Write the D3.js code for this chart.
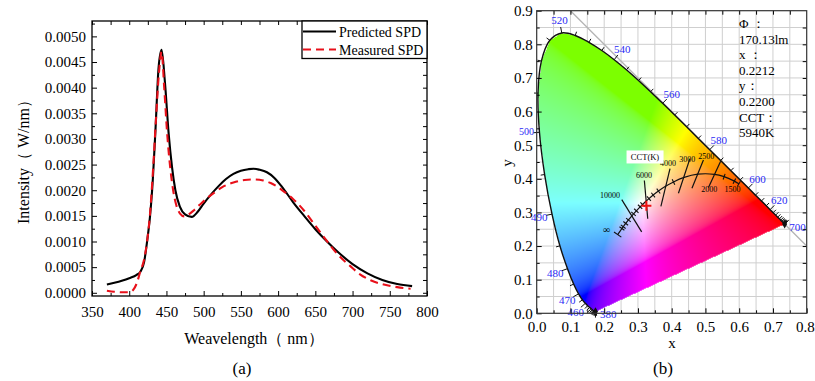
<!DOCTYPE html>
<html>
<head>
<meta charset="utf-8">
<script src="https://cdn.jsdelivr.net/npm/d3@7"></script>
<style>
  body { margin: 0; background: #fff; }
  svg text { font-family: "Liberation Serif", "Times New Roman", serif; fill: #000; }
</style>
</head>
<body>
<svg id="chart" width="815" height="381"></svg>
<script>
// ---- panel (a): spectral power distribution ----
const predictedWl = [370, 380, 390, 400, 410, 415, 420, 424, 428, 431, 435, 439.5, 443.5, 448, 453, 457.5, 462, 468, 475, 484,
  492, 500, 510, 520, 530, 540, 550, 560, 567, 575, 585, 595, 605, 620, 635, 650, 665, 680, 700, 720, 740, 760, 780];
const predictedVal = [0.00016, 0.000195, 0.000235, 0.000285, 0.00035, 0.00041, 0.0006, 0.001, 0.0015, 0.00205, 0.0031, 0.0044, 0.00474, 0.0041, 0.0031, 0.00245, 0.002, 0.00168, 0.00153, 0.00148,
  0.00158, 0.00174, 0.00192, 0.00208, 0.00222, 0.00232, 0.00238, 0.00241, 0.00242, 0.0024, 0.00235, 0.00224, 0.00207, 0.00177, 0.0015, 0.00124, 0.00101, 0.0008, 0.00056, 0.00038, 0.00025, 0.00017, 0.00013];

const measuredWl = [370, 380, 390, 400, 405, 410, 415, 420, 424, 428, 432, 436, 440, 443.5, 447, 451, 455, 459, 463, 468, 474,
  480, 487, 495, 505, 515, 525, 540, 555, 567, 580, 590, 600, 610, 620, 635, 650, 665, 680, 697, 710, 725, 745, 760, 778];
const measuredVal = [0.00004, 0.00002, 0.00001, 0.00001, 0.00005, 0.00018, 0.00042, 0.00065, 0.001, 0.00155, 0.0024, 0.0034, 0.0043, 0.0047, 0.004, 0.0031, 0.00245, 0.002, 0.00172, 0.00155, 0.00149,
  0.00153, 0.00161, 0.00172, 0.00185, 0.00196, 0.00206, 0.00215, 0.0022, 0.00221, 0.00219, 0.00214, 0.00206, 0.00195, 0.00183, 0.0016, 0.00131, 0.00102, 0.00075, 0.00052, 0.00036, 0.00024, 0.00015, 0.00011, 0.00008];

const seriesNames = ['Predicted SPD', 'Measured SPD'];
const xTicksA = [350, 400, 450, 500, 550, 600, 650, 700, 750, 800];
const yTicksA = [0, 0.0005, 0.001, 0.0015, 0.002, 0.0025, 0.003, 0.0035, 0.004, 0.0045, 0.005];

// ---- panel (b): CIE 1931 chromaticity ----
const locusWl = [380, 385, 390, 395, 400, 405, 410, 415, 420, 425, 430, 435, 440, 445, 450, 455, 460, 465, 470, 475,
  480, 485, 490, 495, 500, 505, 510, 515, 520, 525, 530, 535, 540, 545, 550, 555, 560, 565, 570, 575,
  580, 585, 590, 595, 600, 605, 610, 615, 620, 625, 630, 635, 640, 645, 650, 655, 660, 665, 670, 675,
  680, 685, 690, 695, 700];
const locusX = [0.1741, 0.1740, 0.1738, 0.1736, 0.1733, 0.1730, 0.1726, 0.1721, 0.1714, 0.1703, 0.1689, 0.1669, 0.1644, 0.1611, 0.1566, 0.1510, 0.1440, 0.1355, 0.1241, 0.1096,
  0.0913, 0.0687, 0.0454, 0.0235, 0.0082, 0.0039, 0.0139, 0.0389, 0.0743, 0.1142, 0.1547, 0.1929, 0.2296, 0.2658, 0.3016, 0.3373, 0.3731, 0.4087, 0.4441, 0.4788,
  0.5125, 0.5448, 0.5752, 0.6029, 0.6270, 0.6482, 0.6658, 0.6801, 0.6915, 0.7006, 0.7079, 0.7140, 0.7190, 0.7230, 0.7260, 0.7283, 0.7300, 0.7311, 0.7320, 0.7327,
  0.7334, 0.7340, 0.7344, 0.7346, 0.7347];
const locusY = [0.0050, 0.0050, 0.0049, 0.0049, 0.0048, 0.0048, 0.0048, 0.0048, 0.0051, 0.0058, 0.0069, 0.0086, 0.0109, 0.0138, 0.0177, 0.0227, 0.0297, 0.0399, 0.0578, 0.0868,
  0.1327, 0.2007, 0.2950, 0.4127, 0.5384, 0.6548, 0.7502, 0.8120, 0.8338, 0.8262, 0.8059, 0.7816, 0.7543, 0.7243, 0.6923, 0.6589, 0.6245, 0.5896, 0.5547, 0.5202,
  0.4866, 0.4544, 0.4242, 0.3965, 0.3725, 0.3514, 0.3340, 0.3197, 0.3083, 0.2993, 0.2920, 0.2859, 0.2809, 0.2770, 0.2740, 0.2717, 0.2700, 0.2689, 0.2680, 0.2673,
  0.2666, 0.2660, 0.2656, 0.2654, 0.2653];
const labelledWl = [380, 460, 470, 480, 490, 500, 520, 540, 560, 580, 600, 620, 700];

const planckT = [Infinity, 25000, 20000, 15000, 12000, 10000, 9000, 8000, 7000, 6500, 6000, 5500, 5000, 4500, 4000, 3500, 3000, 2500, 2000, 1750, 1500, 1400];
const planckX = [0.2399, 0.2525, 0.2564, 0.2637, 0.2718, 0.2807, 0.2869, 0.2952, 0.3064, 0.3135, 0.3221, 0.3325, 0.3451, 0.3608, 0.3805, 0.4053, 0.4369, 0.4770, 0.5267, 0.5553, 0.5857, 0.5990];
const planckY = [0.2342, 0.2522, 0.2576, 0.2674, 0.2776, 0.2884, 0.2956, 0.3048, 0.3166, 0.3237, 0.3318, 0.3411, 0.3516, 0.3636, 0.3768, 0.3907, 0.4041, 0.4137, 0.4133, 0.4063, 0.3931, 0.3850];

const isoT = [10000, 6000, 4000, 3000, 2500, 2000];
const isoX1 = [0.252, 0.319, 0.395, 0.454, 0.494, 0.545];
const isoY1 = [0.338, 0.395, 0.430, 0.460, 0.456, 0.452];
const isoX2 = [0.311, 0.329, 0.368, 0.420, 0.460, 0.509];
const isoY2 = [0.242, 0.281, 0.318, 0.357, 0.372, 0.374];

const cctText = ['10000', '6000', '4000', '3000', '2500', '2000', '1500', '\u221e'];
const cctX = [0.217, 0.318, 0.389, 0.446, 0.502, 0.511, 0.580, 0.207];
const cctY = [0.350, 0.411, 0.446, 0.458, 0.466, 0.368, 0.368, 0.249];

const measuredPoint = [0.325, 0.320];
const infoLines = ['\u03a6 \uff1a', '170.13lm', 'x \uff1a', '0.2212', 'y\uff1a', '0.2200', 'CCT\uff1a', '5940K'];

const svg = d3.select('#chart');
const serif = '"Liberation Serif", "Times New Roman", serif';

function styleAxis(g, size) {
  g.attr('font-family', serif).attr('font-size', size);
  g.select('.domain').remove();
  g.selectAll('line').attr('stroke', '#000');
}

// ================= panel (a) =================
const A = { left: 92, top: 21, right: 427, bottom: 296 };
const xA = d3.scaleLinear().domain([350, 800]).range([A.left, A.right]);
const yA = d3.scaleLinear().domain([-0.0000625, 0.0053]).range([A.bottom, A.top]);
const gA = svg.append('g');

const xMinorA = xTicksA.slice(0, -1).map(v => v + 25);
const yMinorA = yTicksA.map(v => v + 0.00025);

gA.append('g').attr('transform', `translate(0,${A.bottom})`)
  .call(d3.axisBottom(xA).tickValues(xTicksA).tickSizeInner(-5).tickSizeOuter(0).tickPadding(10).tickFormat(d3.format('d')))
  .call(g => styleAxis(g, 15));
gA.append('g').attr('transform', `translate(0,${A.bottom})`)
  .call(d3.axisBottom(xA).tickValues(xMinorA).tickSize(-3).tickFormat(''))
  .call(g => styleAxis(g, 15));
gA.append('g').attr('transform', `translate(0,${A.top})`)
  .call(d3.axisTop(xA).tickValues(xTicksA.concat(xMinorA)).tickSize(-4).tickFormat(''))
  .call(g => styleAxis(g, 15));
gA.append('g').attr('transform', `translate(${A.left},0)`)
  .call(d3.axisLeft(yA).tickValues(yTicksA).tickSizeInner(-5).tickSizeOuter(0).tickPadding(6).tickFormat(d3.format('.4f')))
  .call(g => styleAxis(g, 15));
gA.append('g').attr('transform', `translate(${A.left},0)`)
  .call(d3.axisLeft(yA).tickValues(yMinorA).tickSize(-3).tickFormat(''))
  .call(g => styleAxis(g, 15));
gA.append('g').attr('transform', `translate(${A.right},0)`)
  .call(d3.axisRight(yA).tickValues(yTicksA.concat(yMinorA)).tickSize(-4).tickFormat(''))
  .call(g => styleAxis(g, 15));

const lineA = d3.line().x(d => xA(d[0])).y(d => yA(d[1])).curve(d3.curveMonotoneX);
const predicted = predictedWl.map((w, i) => [w, predictedVal[i]]);
const measured = measuredWl.map((w, i) => [w, measuredVal[i]]);

gA.append('path').datum(predicted).attr('d', lineA)
  .attr('fill', 'none').attr('stroke', '#000').attr('stroke-width', 2.1);
gA.append('path').datum(measured).attr('d', lineA)
  .attr('fill', 'none').attr('stroke', '#e8101a').attr('stroke-width', 2.1).attr('stroke-dasharray', '8,5');

gA.append('rect').attr('x', A.left).attr('y', A.top)
  .attr('width', A.right - A.left).attr('height', A.bottom - A.top)
  .attr('fill', 'none').attr('stroke', '#000').attr('stroke-width', 1.3);

// legend
const leg = gA.append('g');
leg.append('rect').attr('x', 302).attr('y', A.top).attr('width', A.right - 302).attr('height', 37.5)
  .attr('fill', '#fff').attr('stroke', '#000').attr('stroke-width', 1.3);
seriesNames.forEach((name, i) => {
  const yy = A.top + 10.5 + i * 18;
  leg.append('line').attr('x1', 303).attr('x2', 336).attr('y1', yy).attr('y2', yy)
    .attr('stroke', i === 0 ? '#000' : '#e8101a').attr('stroke-width', 2.1)
    .attr('stroke-dasharray', i === 0 ? null : '8,5');
  leg.append('text').attr('x', 339).attr('y', yy + 5).attr('font-size', 14).text(name);
});

gA.append('text').attr('transform', `translate(23,158) rotate(-90)`)
  .attr('text-anchor', 'middle').attr('dominant-baseline', 'central').attr('font-size', 16)
  .text('Intensity\uff08 W/nm\uff09');
gA.append('text').attr('x', 254).attr('y', 344).attr('text-anchor', 'middle').attr('font-size', 16)
  .text('Weavelength\uff08 nm\uff09');
gA.append('text').attr('x', 242).attr('y', 374).attr('text-anchor', 'middle').attr('font-size', 17).text('(a)');

// ================= panel (b) =================
const B = { left: 536.7, top: 10.7, right: 806.7, bottom: 313.3 };
const xB = d3.scaleLinear().domain([0, 0.8]).range([B.left, B.right]);
const yB = d3.scaleLinear().domain([0, 0.9]).range([B.bottom, B.top]);
const gB = svg.append('g');

const gridX = d3.range(1, 16).map(i => i * 0.05);
const gridY = d3.range(1, 18).map(i => i * 0.05);
gB.append('g').selectAll('line').data(gridX).join('line')
  .attr('x1', d => xB(d)).attr('x2', d => xB(d)).attr('y1', B.top).attr('y2', B.bottom)
  .attr('stroke', '#cfcfcf').attr('stroke-width', 1);
gB.append('g').selectAll('line').data(gridY).join('line')
  .attr('y1', d => yB(d)).attr('y2', d => yB(d)).attr('x1', B.left).attr('x2', B.right)
  .attr('stroke', '#cfcfcf').attr('stroke-width', 1);

// x + y = 1 reference line
gB.append('line').attr('x1', xB(0.1)).attr('y1', yB(0.9)).attr('x2', xB(0.8)).attr('y2', yB(0.2))
  .attr('stroke', '#b4b4b4').attr('stroke-width', 1.3);

// white panel behind info text
gB.append('rect').attr('x', xB(0.585)).attr('y', B.top + 1).attr('width', xB(0.79) - xB(0.585))
  .attr('height', yB(0.9) - yB(0.52)).attr('fill', '#fff');

// chromaticity fill painted on a canvas, sampled through the scales
const locusData = locusWl.map((w, i) => [locusX[i], locusY[i]]);
const locusPx = locusData.map(d => [xB(d[0]), yB(d[1])]);
function chromaColor(cx, cy) {
  const X = cx / cy, Y = 1, Z = (1 - cx - cy) / cy;
  let r = Math.max(0, 3.2406 * X - 1.5372 * Y - 0.4986 * Z);
  let g = Math.max(0, -0.9689 * X + 1.8758 * Y + 0.0415 * Z);
  let b = Math.max(0, 0.0557 * X - 0.2040 * Y + 1.0570 * Z);
  const m = Math.max(r, g, b);
  r /= m; g /= m; b /= m;
  r = Math.max(r, 0.2 * g); // warmer, lime-ish greens like the original rendering
  return [r, g, b].map(v => 255 * (v <= 0.0031308 ? 12.92 * v : 1.055 * Math.pow(v, 1 / 2.4) - 0.055));
}
const cw = Math.round(B.right - B.left), ch = Math.round(B.bottom - B.top);
const canvas = document.createElement('canvas');
canvas.width = cw; canvas.height = ch;
const ctx = canvas.getContext('2d');
const img = ctx.createImageData(cw, ch);
for (let j = 0; j < ch; j++) {
  for (let i = 0; i < cw; i++) {
    const px = B.left + i + 0.5, py = B.top + j + 0.5;
    if (!d3.polygonContains(locusPx, [px, py])) continue;
    const c = chromaColor(xB.invert(px), yB.invert(py));
    const k = (j * cw + i) * 4;
    img.data[k] = c[0]; img.data[k + 1] = c[1]; img.data[k + 2] = c[2]; img.data[k + 3] = 255;
  }
}
ctx.putImageData(img, 0, 0);
gB.append('image').attr('x', B.left).attr('y', B.top).attr('width', cw).attr('height', ch)
  .attr('href', canvas.toDataURL());

// spectral locus outline
gB.append('path').datum(locusPx).attr('d', d3.line().curve(d3.curveCatmullRom))
  .attr('fill', 'none').attr('stroke', '#111').attr('stroke-width', 1.4);

// locus ticks and wavelength labels
const centre = [xB(0.33), yB(0.33)];
function outwardNormal(pts, i) {
  const a = pts[Math.max(0, i - 1)], b = pts[Math.min(pts.length - 1, i + 1)];
  let nx = -(b[1] - a[1]), ny = b[0] - a[0];
  const len = Math.hypot(nx, ny) || 1;
  nx /= len; ny /= len;
  const p = pts[i];
  if ((p[0] - centre[0]) * nx + (p[1] - centre[1]) * ny < 0) { nx = -nx; ny = -ny; }
  return [nx, ny];
}
const gTicks = gB.append('g');
locusPx.forEach((p, i) => {
  const n = outwardNormal(locusPx, i);
  const len = labelledWl.includes(locusWl[i]) ? 6 : 4;
  gTicks.append('line').attr('x1', p[0]).attr('y1', p[1])
    .attr('x2', p[0] + n[0] * len).attr('y2', p[1] + n[1] * len)
    .attr('stroke', '#111').attr('stroke-width', 1);
});
[0, locusPx.length - 1].forEach(i => {
  gB.append('path').attr('transform', `translate(${locusPx[i][0]},${locusPx[i][1]})`)
    .attr('d', d3.symbol(d3.symbolDiamond, 22)()).attr('fill', '#111');
});
labelledWl.forEach(w => {
  const i = locusWl.indexOf(w);
  const p = locusPx[i];
  let n = outwardNormal(locusPx, i);
  if (i === 0 || i === locusWl.length - 1) n = [0.98, 0.2];
  gB.append('text').attr('x', p[0] + n[0] * 13).attr('y', p[1] + n[1] * 13 - (w === 500 ? 1.5 : 0))
    .attr('text-anchor', 'middle').attr('dominant-baseline', 'central')
    .attr('font-size', w === 500 ? 10 : 11).style('fill', '#2a2af5').text(w);
});

// Planckian locus
const planckPx = planckT.map((t, i) => [xB(planckX[i]), yB(planckY[i])]);
gB.append('path').datum(planckPx).attr('d', d3.line().curve(d3.curveCatmullRom))
  .attr('fill', 'none').attr('stroke', '#111').attr('stroke-width', 1.2);
planckPx.forEach((p, i) => {
  if (isoT.includes(planckT[i])) return;
  const a = planckPx[Math.max(0, i - 1)], b = planckPx[Math.min(planckPx.length - 1, i + 1)];
  let nx = -(b[1] - a[1]), ny = b[0] - a[0];
  const len = Math.hypot(nx, ny);
  nx /= len; ny /= len;
  const h = i === 0 ? 4.5 : 3;
  gB.append('line').attr('x1', p[0] - nx * h).attr('y1', p[1] - ny * h)
    .attr('x2', p[0] + nx * h).attr('y2', p[1] + ny * h)
    .attr('stroke', '#111').attr('stroke-width', 1.1);
});
gB.append('g').selectAll('line').data(isoT).join('line')
  .attr('x1', (d, i) => xB(isoX1[i])).attr('y1', (d, i) => yB(isoY1[i]))
  .attr('x2', (d, i) => xB(isoX2[i])).attr('y2', (d, i) => yB(isoY2[i]))
  .attr('stroke', '#111').attr('stroke-width', 1.2);
gB.append('g').selectAll('text').data(cctText).join('text')
  .attr('x', (d, i) => xB(cctX[i])).attr('y', (d, i) => yB(cctY[i]))
  .attr('text-anchor', 'middle').attr('dominant-baseline', 'central')
  .attr('font-size', (d, i) => i === cctText.length - 1 ? 10 : 8).text(d => d);

// CCT(K) tag
const tag = gB.append('g').attr('transform', `translate(${xB(0.321)},${yB(0.465)})`);
tag.append('rect').attr('x', -18.5).attr('y', -6.5).attr('width', 37).attr('height', 13).attr('fill', '#fff');
tag.append('text').attr('text-anchor', 'middle').attr('dominant-baseline', 'central')
  .attr('font-size', 8.5).text('CCT(K)');

// measured chromaticity marker
const mp = [xB(measuredPoint[0]), yB(measuredPoint[1])];
gB.append('path').attr('d', `M${mp[0] - 5},${mp[1]}H${mp[0] + 5}M${mp[0]},${mp[1] - 5}V${mp[1] + 5}`)
  .attr('stroke', '#ee1111').attr('stroke-width', 2);

// info text
gB.append('g').selectAll('text').data(infoLines).join('text')
  .attr('x', 739).attr('y', (d, i) => 28 + i * 15.6).attr('font-size', 13).text(d => d);

// axes of panel (b)
const xTicksB = d3.range(0, 9).map(i => i / 10);
const yTicksB = d3.range(0, 10).map(i => i / 10);
gB.append('g').attr('transform', `translate(0,${B.bottom})`)
  .call(d3.axisBottom(xB).tickValues(xTicksB).tickSizeInner(-5).tickSizeOuter(0).tickPadding(8).tickFormat(d3.format('.1f')))
  .call(g => styleAxis(g, 15))
  .call(g => g.selectAll('.tick:last-of-type text').attr('text-anchor', 'end').attr('dx', 7.5));
gB.append('g').attr('transform', `translate(0,${B.bottom})`)
  .call(d3.axisBottom(xB).tickValues(xTicksB.slice(0, -1).map(v => v + 0.05)).tickSize(-3).tickFormat(''))
  .call(g => styleAxis(g, 15));
gB.append('g').attr('transform', `translate(0,${B.top})`)
  .call(d3.axisTop(xB).tickValues(gridX).tickSize(-4).tickFormat(''))
  .call(g => styleAxis(g, 15));
gB.append('g').attr('transform', `translate(${B.left},0)`)
  .call(d3.axisLeft(yB).tickValues(yTicksB).tickSizeInner(-5).tickSizeOuter(0).tickPadding(4).tickFormat(d3.format('.1f')))
  .call(g => styleAxis(g, 15));
gB.append('g').attr('transform', `translate(${B.left},0)`)
  .call(d3.axisLeft(yB).tickValues(yTicksB.slice(0, -1).map(v => v + 0.05)).tickSize(-3).tickFormat(''))
  .call(g => styleAxis(g, 15));
gB.append('g').attr('transform', `translate(${B.right},0)`)
  .call(d3.axisRight(yB).tickValues(gridY).tickSize(-4).tickFormat(''))
  .call(g => styleAxis(g, 15));
gB.append('rect').attr('x', B.left).attr('y', B.top)
  .attr('width', B.right - B.left).attr('height', B.bottom - B.top)
  .attr('fill', 'none').attr('stroke', '#333').attr('stroke-width', 1.2);

gB.append('text').attr('x', 672).attr('y', 348).attr('text-anchor', 'middle').attr('font-size', 15).text('x');
gB.append('text').attr('transform', 'translate(507,163) rotate(-90)').attr('text-anchor', 'middle')
  .attr('dominant-baseline', 'central').attr('font-size', 15).text('y');
gB.append('text').attr('x', 663).attr('y', 374).attr('text-anchor', 'middle').attr('font-size', 17).text('(b)');
</script>
</body>
</html>
